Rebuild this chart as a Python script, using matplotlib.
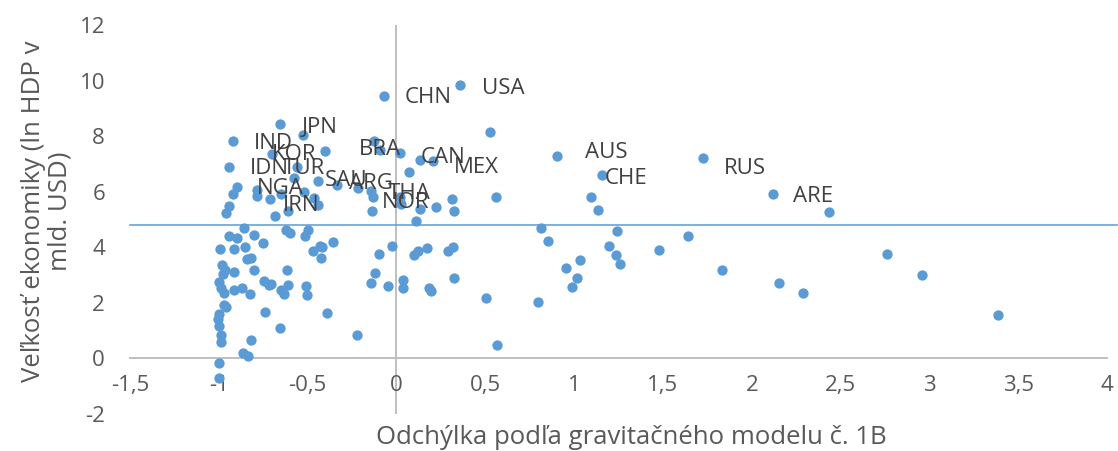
import matplotlib.pyplot as plt
from matplotlib.ticker import FuncFormatter

plt.rcParams['font.family'] = ['Open Sans', 'DejaVu Sans']

# labelled countries
lab_names = ['USA', 'CHN', 'JPN', 'IND', 'BRA', 'KOR', 'CAN', 'MEX', 'IDN', 'TUR',
             'SAU', 'ARG', 'NGA', 'IRN', 'THA', 'NOR', 'AUS', 'CHE', 'RUS', 'ARE']
lab_x = [0.356, -0.071, -0.656, -0.921, -0.128, -0.699, 0.022, 0.204, -0.945, -0.558,
         -0.443, -0.337, -0.896, -0.783, -0.146, -0.217, 0.904, 1.159, 1.728, 2.119]
lab_y = [9.84, 9.46, 8.42, 7.83, 7.84, 7.35, 7.39, 7.12, 6.88, 6.88,
         6.37, 6.25, 6.16, 5.83, 6.02, 6.12, 7.27, 6.61, 7.23, 5.92]

# other countries
x_vals = [0.527, -0.525, -0.090, -0.405, 0.131, 0.069, -0.578, -0.922, -0.787, -0.712,
          -0.652, -0.520, -0.465, -0.441, -0.943, -0.962, -0.682, -0.611, -0.133, -0.137,
          0.022, 0.026, 0.135, 0.225, 0.315, 0.323, 0.111, 0.562, 1.093, 1.132,
          2.437, -0.861, -0.624, -0.602, -0.499, -0.517, -0.943, -0.896, -0.801, -0.751,
          -0.994, -0.915, -0.854, -0.840, -0.817, -0.984, -0.967, -0.914, -0.803, -0.976,
          -0.998, -0.990, -0.971, -0.915, -0.867, -0.826, -0.746, -0.718, -0.709, -0.652,
          -0.634, -0.611, -0.615, -0.512, -0.502, -0.469, -0.431, -0.418, -0.427, -0.356,
          -0.971, -0.962, -0.999, -1.004, -0.999, -0.990, -0.990, -0.742, -0.658, -0.390,
          -0.819, -0.862, -0.836, -1.001, -1.001, -0.221, -0.024, -0.100, 0.120, 0.101,
          0.169, 0.289, 0.319, -0.120, -0.141, -0.047, 0.038, 0.034, 0.182, 0.195,
          0.321, 0.506, 0.566, 0.816, 0.853, 1.243, 1.196, 1.641, 1.475, 1.237,
          1.260, 1.031, 0.954, 1.016, 0.988, 0.795, 1.830, 2.152, 2.289, 2.760,
          2.960, 3.384]
y_vals = [8.15, 8.03, 7.51, 7.47, 7.15, 6.70, 6.50, 5.90, 6.06, 5.74,
          5.92, 5.98, 5.79, 5.52, 5.47, 5.24, 5.14, 5.30, 5.81, 5.31,
          5.80, 5.56, 5.38, 5.44, 5.74, 5.32, 4.94, 5.80, 5.80, 5.33,
          5.26, 4.69, 4.62, 4.50, 4.62, 4.39, 4.41, 4.35, 4.44, 4.14,
          3.94, 3.95, 4.02, 3.58, 3.61, 3.36, 3.17, 3.10, 3.17, 3.04,
          2.76, 2.55, 2.37, 2.45, 2.52, 2.33, 2.77, 2.65, 2.69, 2.47,
          2.33, 2.63, 3.17, 2.59, 2.28, 3.88, 4.06, 4.00, 3.62, 4.18,
          1.91, 1.85, 1.60, 1.43, 1.15, 0.85, 0.59, 1.67, 1.10, 1.63,
          0.67, 0.19, 0.07, -0.16, -0.70, 0.86, 4.03, 3.77, 3.88, 3.71,
          3.97, 3.85, 4.00, 3.07, 2.71, 2.59, 2.83, 2.53, 2.54, 2.42,
          2.89, 2.18, 0.47, 4.70, 4.22, 4.59, 4.05, 4.42, 3.90, 3.71,
          3.41, 3.54, 3.26, 2.89, 2.58, 2.04, 3.17, 2.73, 2.37, 3.77,
          3.01, 1.58]

threshold = 4.82
x_ticks = [-1.5, -1, -0.5, 0, 0.5, 1, 1.5, 2, 2.5, 3, 3.5, 4]
y_ticks = [-2, 0, 2, 4, 6, 8, 10, 12]

# label offsets in pixels (text left edge / centre relative to the point)
offsets = {'USA': (22, -3), 'CHN': (21, -2), 'JPN': (22, -3), 'IND': (21, -3),
           'BRA': (-15, -9), 'KOR': (0, 0), 'CAN': (20, -4), 'MEX': (21, -7),
           'IDN': (21, -1), 'TUR': (-15, -1), 'SAU': (7, 1), 'ARG': (12, 1),
           'NGA': (20, -1), 'IRN': (25, -9), 'THA': (17, -2), 'NOR': (24, -14),
           'AUS': (28, 4), 'CHE': (2, -4), 'RUS': (20, -11), 'ARE': (20, -3)}

blue = '#5B9BD5'
grey_txt = '#595959'

fig = plt.figure(figsize=(11.18, 4.51), dpi=100)
ax = fig.add_axes([0.1163, 0.082, 0.8739, 0.8626])

ax.scatter(x_vals, y_vals, s=55, color=blue, zorder=3, linewidths=0)
ax.scatter(lab_x, lab_y, s=55, color=blue, zorder=3, linewidths=0)

for name, xv, yv in zip(lab_names, lab_x, lab_y):
    ax.annotate(name, (xv, yv), xytext=offsets[name], textcoords='offset pixels',
                ha='left', va='center', fontsize=16, color='#404040', zorder=4)

ax.axhline(threshold, color=blue, lw=1.1, xmax=1.01, clip_on=False, zorder=2)

ax.set_xlim(-1.5, 4)
ax.set_ylim(-2, 12)

# axis lines crossing at zero
ax.axvline(0, color='#BFBFBF', lw=1.4, zorder=1)
ax.spines['bottom'].set_position(('data', 0))
ax.spines['bottom'].set_color('#BFBFBF')
ax.spines['bottom'].set_linewidth(1.4)
for s in ['left', 'right', 'top']:
    ax.spines[s].set_visible(False)

fmt = FuncFormatter(lambda v, p: ('%g' % v).replace('.', ','))
ax.set_xticks(x_ticks)
ax.set_yticks(y_ticks)
ax.xaxis.set_major_formatter(fmt)
ax.yaxis.set_major_formatter(fmt)
ax.tick_params(axis='x', length=0, pad=12, labelsize=16, labelcolor=grey_txt)
ax.tick_params(axis='y', length=0, pad=18, labelsize=16, labelcolor=grey_txt)

ax.set_xlabel('Odchýlka podľa gravitačného modelu č. 1B', fontsize=18.5, color=grey_txt)
ax.xaxis.set_label_coords(0.513, -0.028)
ax.set_ylabel('Veľkosť ekonomiky (ln HDP v\nmld. USD)', fontsize=18.5, color=grey_txt,
              linespacing=1.05)
ax.yaxis.set_label_coords(-0.059, 0.52)

plt.savefig('out.png', dpi=100)
